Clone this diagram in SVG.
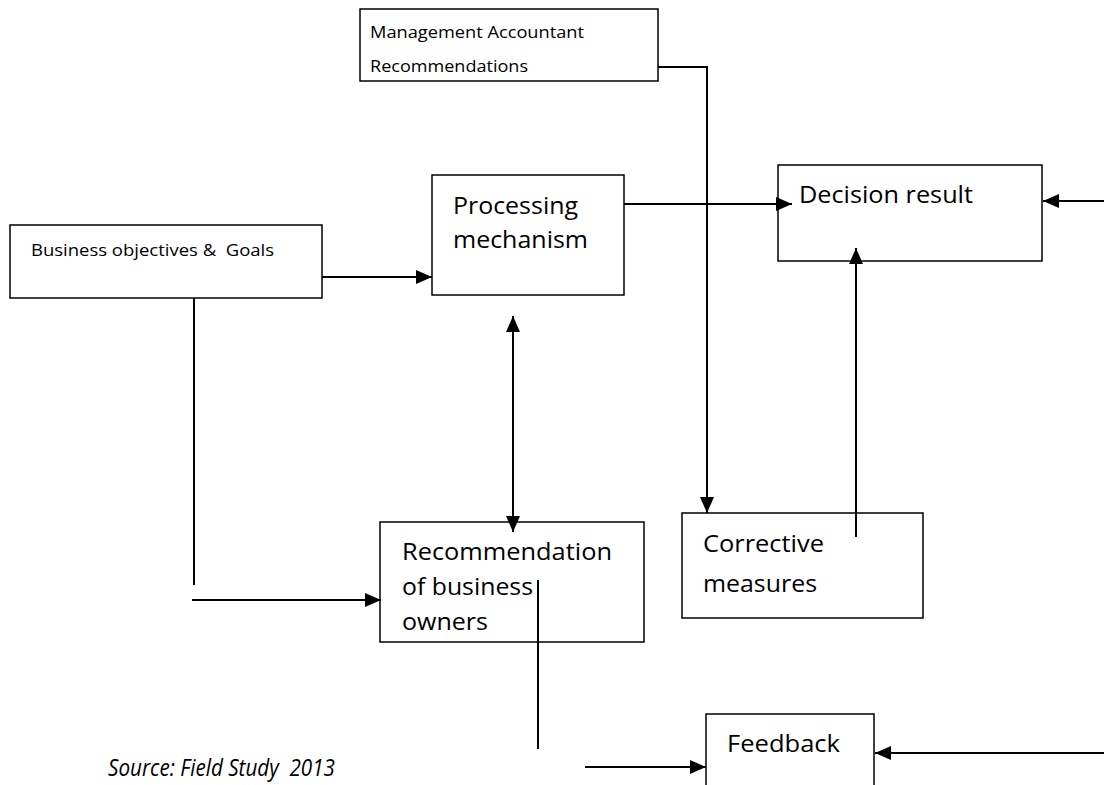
<svg xmlns="http://www.w3.org/2000/svg" width="1104" height="785" viewBox="0 0 1104 785">
<style>
.box{fill:#fff;stroke:#000;stroke-width:1.5}
.c{fill:none;stroke:#000;stroke-width:2}
text{white-space:pre}
.t{font-family:"Open Sans","Liberation Sans",sans-serif;font-size:24px;fill:#000}
.s{font-family:"Open Sans","Liberation Sans",sans-serif;font-size:16px;fill:#000}
.src{font-family:"Open Sans","Liberation Sans",sans-serif;font-size:24px;font-style:italic;fill:#000}
</style>
<defs>
<marker id="ah" markerUnits="userSpaceOnUse" markerWidth="17" markerHeight="14" refX="16" refY="7" orient="auto">
<path d="M0,0 L16,7 L0,14 z" fill="#000"/>
</marker>
<marker id="as" markerUnits="userSpaceOnUse" markerWidth="17" markerHeight="14" refX="0" refY="7" orient="auto">
<path d="M16,0 L0,7 L16,14 z" fill="#000"/>
</marker>
</defs>
<g id="mgmt">
<rect class="box" x="360" y="9" width="298" height="72"/>
<text class="s" x="370" y="38" textLength="214" lengthAdjust="spacingAndGlyphs">Management Accountant</text>
<text class="s" x="370" y="72" textLength="158" lengthAdjust="spacingAndGlyphs">Recommendations</text>
</g>
<g id="business">
<rect class="box" x="10" y="225" width="312" height="73"/>
<text class="s" x="31" y="256" xml:space="preserve" textLength="243" lengthAdjust="spacingAndGlyphs">Business objectives &amp;  Goals</text>
</g>
<g id="processing">
<rect class="box" x="432" y="175" width="192" height="120"/>
<text class="t" x="453" y="214" textLength="125" lengthAdjust="spacingAndGlyphs">Processing</text>
<text class="t" x="453" y="248" textLength="135" lengthAdjust="spacingAndGlyphs">mechanism</text>
</g>
<g id="decision">
<rect class="box" x="778" y="165" width="264" height="96"/>
<text class="t" x="799" y="203" textLength="174" lengthAdjust="spacingAndGlyphs">Decision result</text>
</g>
<g id="recommendation">
<rect class="box" x="380" y="522" width="264" height="120"/>
<text class="t" x="402" y="560" textLength="210" lengthAdjust="spacingAndGlyphs">Recommendation</text>
<text class="t" x="402" y="595" textLength="131" lengthAdjust="spacingAndGlyphs">of business</text>
<text class="t" x="402" y="630" textLength="86" lengthAdjust="spacingAndGlyphs">owners</text>
</g>
<g id="corrective">
<rect class="box" x="682" y="513" width="241" height="105"/>
<text class="t" x="703" y="552" textLength="121" lengthAdjust="spacingAndGlyphs">Corrective</text>
<text class="t" x="703" y="592" textLength="114" lengthAdjust="spacingAndGlyphs">measures</text>
</g>
<g id="feedback">
<rect class="box" x="706" y="714" width="168" height="100"/>
<text class="t" x="727" y="752" textLength="113" lengthAdjust="spacingAndGlyphs">Feedback</text>
</g>
<g id="source">
<text class="src" x="108" y="776" xml:space="preserve" textLength="227" lengthAdjust="spacingAndGlyphs">Source: Field Study  2013</text>
</g>
<g id="connectors">
<line class="c" x1="322" y1="277" x2="432" y2="277" marker-end="url(#ah)"/>
<line class="c" x1="624" y1="204" x2="792" y2="204" marker-end="url(#ah)"/>
<line class="c" x1="1104" y1="201" x2="1043" y2="201" marker-end="url(#ah)"/>
<path class="c" d="M658,67 H707 V513" marker-end="url(#ah)"/>
<line class="c" x1="856" y1="537" x2="856" y2="248" marker-end="url(#ah)"/>
<line class="c" x1="513" y1="316" x2="513" y2="532" marker-start="url(#as)" marker-end="url(#ah)"/>
<line class="c" x1="194" y1="298" x2="194" y2="585"/>
<line class="c" x1="192" y1="600" x2="381" y2="600" marker-end="url(#ah)"/>
<line class="c" x1="538" y1="580" x2="538" y2="749"/>
<line class="c" x1="585" y1="767" x2="706" y2="767" marker-end="url(#ah)"/>
<line class="c" x1="1104" y1="753" x2="875" y2="753" marker-end="url(#ah)"/>
</g>
</svg>
